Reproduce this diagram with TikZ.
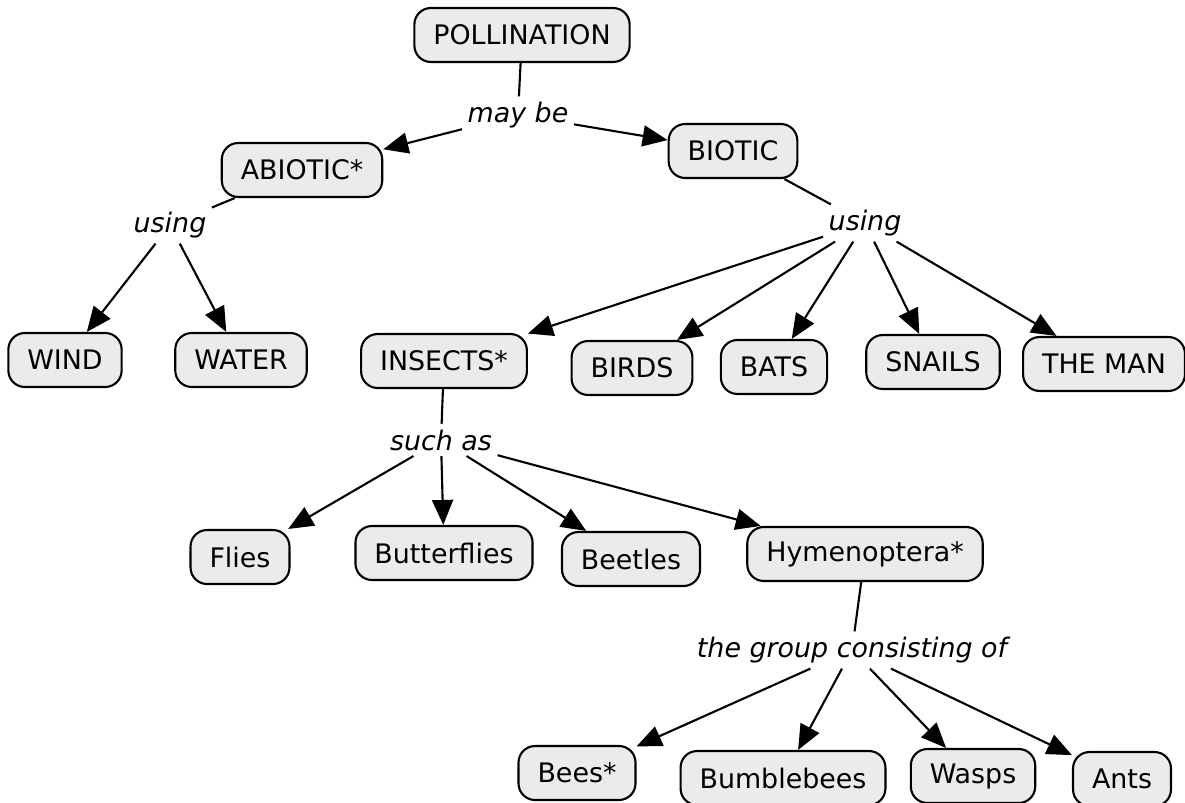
\documentclass[tikz,border=0pt]{standalone}
\usepackage{fontspec}
\setmainfont{DejaVu Sans}
\usetikzlibrary{arrows.meta}
\definecolor{boxgray}{HTML}{EBEBEB}
\tikzset{
  concept/.style={draw=black, line width=1.2pt, fill=boxgray, rounded corners=0.33cm,
    minimum height=1.08cm, inner xsep=0.38cm, font=\fontsize{15.3}{18}\selectfont},
  linking/.style={font=\fontsize{15.3}{18}\selectfont\itshape, inner sep=3pt},
  link/.style={line width=1.2pt},
  linkto/.style={line width=1.2pt, -{Triangle[length=0.5cm,width=0.42cm]}}
}

\begin{document}
\begin{tikzpicture}[x=0.02cm, y=-0.02cm]
	\useasboundingbox (0,0) rectangle (1185,803);
	\node[concept] (pollination) at (522,35) {POLLINATION};
	\node[linking] (maybe) at (518,115) {may be};
	\node[concept] (abiotic) at (302,170) {ABIOTIC*};
	\node[concept] (biotic) at (733,151) {BIOTIC};
	\node[linking] (usingA) at (170,225) {using};
	\node[linking] (usingB) at (865,223) {using};
	\node[concept] (wind) at (65,360) {WIND};
	\node[concept] (water) at (241,360) {WATER};
	\node[concept] (insects) at (444,361) {INSECTS*};
	\node[concept] (birds) at (632,368) {BIRDS};
	\node[concept] (bats) at (774,367) {BATS};
	\node[concept] (snails) at (933,362) {SNAILS};
	\node[concept] (man) at (1104,364) {THE MAN};
	\node[linking] (suchas) at (441,440) {such as};
	\node[concept] (flies) at (240,557) {Flies};
	\node[concept] (butterflies) at (444,553) {Butterflies};
	\node[concept] (beetles) at (631,559) {Beetles};
	\node[concept] (hymen) at (865,554) {Hymenoptera*};
	\node[linking] (group) at (852,650) {the group consisting of};
	\node[concept] (bees) at (577,773) {Bees*};
	\node[concept] (bumble) at (783,778) {Bumblebees};
	\node[concept] (wasps) at (973,776) {Wasps};
	\node[concept] (ants) at (1122,779) {Ants};

	\draw[link] (pollination) -- (maybe);
	\draw[linkto] (maybe) -- (abiotic);
	\draw[linkto] (maybe) -- (biotic);
	\draw[link] (abiotic) -- (usingA);
	\draw[linkto] (usingA) -- (wind);
	\draw[linkto] (usingA) -- (water);
	\draw[link] (biotic) -- (usingB);
	\foreach \t in {insects,birds,bats,snails,man}
		\draw[linkto] (usingB) -- (\t);
	\draw[link] (insects) -- (suchas);
	\foreach \t in {flies,butterflies,beetles,hymen}
		\draw[linkto] (suchas) -- (\t);
	\draw[link] (hymen) -- (group);
	\foreach \t in {bees,bumble,wasps,ants}
		\draw[linkto] (group) -- (\t);
\end{tikzpicture}
\end{document}
